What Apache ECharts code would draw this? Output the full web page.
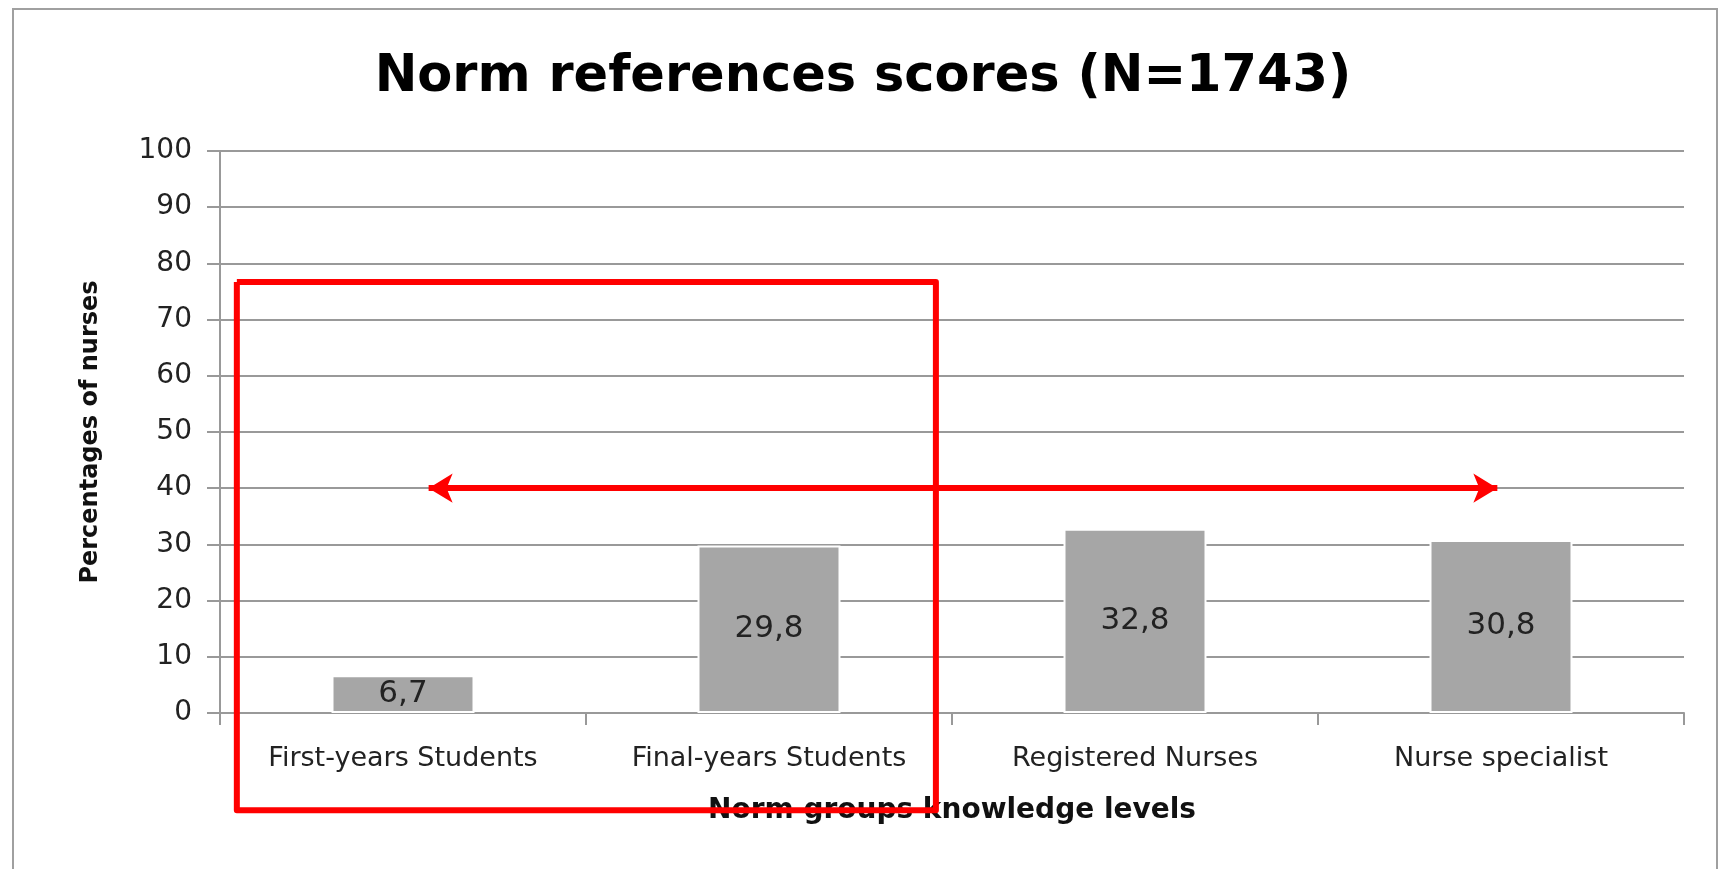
<!DOCTYPE html>
<html><head><meta charset="utf-8">
<script src="https://cdn.jsdelivr.net/npm/echarts@6/dist/echarts.min.js"></script>
<style>
html,body{margin:0;padding:0;background:#fff;}
#frame{position:absolute;left:12px;top:8px;width:1706px;height:875px;border:2px solid #a0a0a0;box-sizing:border-box;}
#c{position:absolute;left:0;top:0;width:1726px;height:869px;}
</style></head>
<body><div id="frame"></div><div id="c"></div>
<script>
const categories = ["First-years Students", "Final-years Students", "Registered Nurses", "Nurse specialist"];
const values = [6.7, 29.8, 32.8, 30.8];
const yTicks = {min: 0, max: 100, interval: 10};
// annotation shapes, in category units (x) and percentage units (y)
const boxX = [0.046, 1.956, 1.956, 0.046, 0.046];
const boxY = [76.7, 76.7, -17.3, -17.3, 76.7];
const arrowX = [0.57, 3.49];
const arrowY = [40, 40];

const chart = echarts.init(document.getElementById('c'));
const font = 'DejaVu Sans';
chart.setOption({
  animation: false,
  title: {
    text: 'Norm references scores (N=1743)', left: 'center', top: 47,
    textStyle: {fontFamily: 'DejaVu Sans', fontWeight: 'bold', fontSize: 51, color: '#000'}
  },
  grid: {left: 220, right: 42, top: 151, bottom: 156},
  xAxis: [{
    type: 'category', data: categories,
    axisLine: {lineStyle: {color: '#999', width: 2}},
    axisTick: {show: true, length: 12, lineStyle: {color: '#999', width: 2}},
    axisLabel: {fontFamily: font, fontSize: 27, color: '#222', margin: 32, interval: 0, hideOverlap: false},
    name: 'Norm groups knowledge levels', nameLocation: 'middle', nameGap: 84,
    nameTextStyle: {fontFamily: 'DejaVu Sans', fontWeight: 'bold', fontSize: 28, color: '#111'}
  }, {
    type: 'value', min: 0, max: 4, show: false
  }],
  yAxis: {
    type: 'value', min: yTicks.min, max: yTicks.max, interval: yTicks.interval,
    axisLine: {show: true, lineStyle: {color: '#999', width: 2}},
    axisTick: {show: true, length: 13, lineStyle: {color: '#999', width: 2}},
    splitLine: {lineStyle: {color: '#999', width: 2}},
    axisLabel: {fontFamily: font, fontSize: 28, color: '#222', margin: 28},
    name: 'Percentages of nurses', nameLocation: 'middle', nameGap: 117, nameRotate: 90,
    nameTextStyle: {fontFamily: 'DejaVu Sans', fontWeight: 'bold', fontSize: 24, color: '#111'}
  },
  series: [{
    type: 'bar', data: values, barWidth: 143,
    itemStyle: {color: '#a6a6a6', borderColor: '#fff', borderWidth: 2},
    label: {show: true, position: 'inside', fontFamily: font, fontSize: 31, color: '#222',
      formatter: p => String(p.value).replace('.', ',')}
  }, {
    type: 'line', xAxisIndex: 1, clip: false, showSymbol: false, z: 5,
    data: boxX.map((x, i) => [x, boxY[i]]),
    lineStyle: {color: '#ff0000', width: 6, join: 'round'}, silent: true
  }, {
    type: 'line', xAxisIndex: 1, clip: false, showSymbol: false, z: 6, data: [],
    markLine: {
      silent: true, symbol: ['arrow', 'arrow'], symbolSize: [22, 24],
      lineStyle: {color: '#ff0000', width: 6, type: 'solid'}, label: {show: false},
      data: [[{coord: [arrowX[0], arrowY[0]]}, {coord: [arrowX[1], arrowY[1]]}]]
    }
  }]
});
</script></body></html>
